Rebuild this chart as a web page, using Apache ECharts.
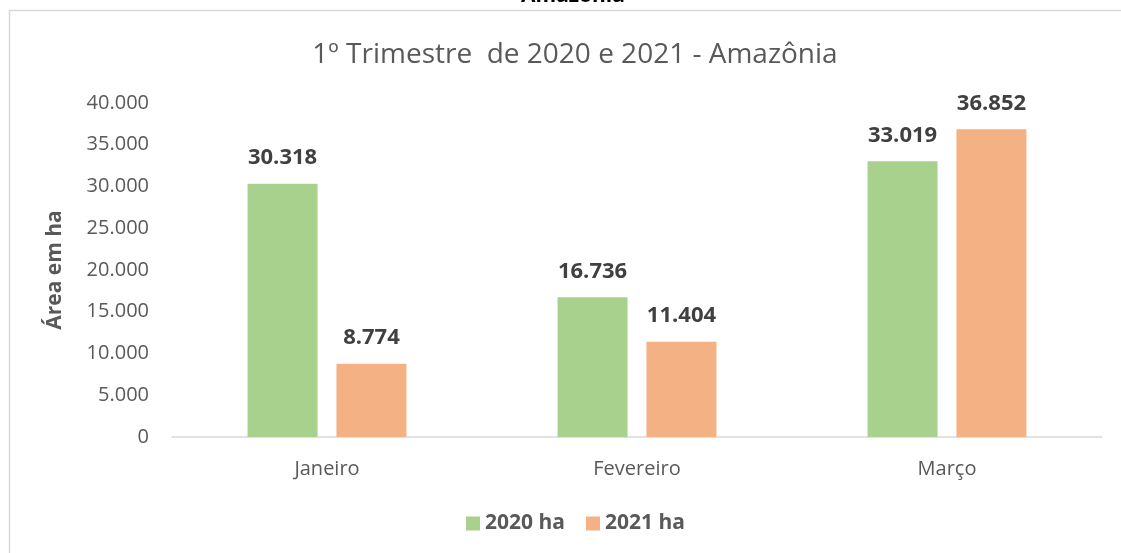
<!DOCTYPE html>
<html>
<head>
<meta charset="UTF-8">
<title>Amazônia</title>
<script src="https://cdn.jsdelivr.net/npm/echarts@6/dist/echarts.min.js"></script>
<style>
    body { margin: 0; padding: 0; background: #fff; }
    #main { width: 1121px; height: 553px; }
</style>
</head>
<body>
<div id="main"></div>
<script type="text/javascript">
    var meses = ['Janeiro', 'Fevereiro', 'Março'];
    var serie2020 = [30318, 16736, 33019];
    var serie2021 = [8774, 11404, 36852];
    var nomes = ['2020 ha', '2021 ha'];

    var fonte = '"Open Sans", sans-serif';

    // formato pt-BR: 30.318
    function fmt(v) {
        return String(v).replace(/\B(?=(\d{3})+(?!\d))/g, '.');
    }

    var myChart = echarts.init(document.getElementById('main'));
    var option = {
        animation: false,
        textStyle: { fontFamily: fonte },
        title: {
            text: '1º Trimestre  de 2020 e 2021 - Amazônia',
            left: 570,
            textAlign: 'center',
            top: 36,
            textStyle: { fontSize: 28, fontWeight: 'normal', color: '#595959', fontFamily: fonte }
        },
        graphic: [
            { type: 'polyline', shape: { points: [[9.5, 560], [9.5, 10.5], [1130, 10.5]] },
              style: { fill: 'none', stroke: '#d9d9d9', lineWidth: 1.5 } },
            // título de cima, cortado pela borda da imagem
            { type: 'text', x: 573, y: -14,
              style: { text: 'Amazônia', font: 'bold 21px ' + fonte, fill: '#000',
                       align: 'center', verticalAlign: 'top' } }
        ],
        legend: {
            data: nomes,
            top: 508,
            left: 461,
            itemWidth: 14,
            itemHeight: 14,
            itemGap: 21,
            icon: 'rect',
            textStyle: { fontSize: 21, fontWeight: 'bold', color: '#595959' }
        },
        grid: { left: 172, right: 19, top: 103, bottom: 116 },
        xAxis: {
            type: 'category',
            data: meses,
            axisLine: { lineStyle: { color: '#d9d9d9', width: 1.5 } },
            axisTick: { show: false },
            axisLabel: { fontSize: 20, color: '#595959', margin: 22 }
        },
        yAxis: {
            type: 'value',
            min: 0,
            max: 40000,
            interval: 5000,
            name: 'Área em ha',
            nameLocation: 'middle',
            nameGap: 106,
            nameTextStyle: { fontSize: 21, fontWeight: 'bold', color: '#595959' },
            splitLine: { show: false },
            axisLabel: { fontSize: 20, color: '#595959', margin: 23, formatter: fmt }
        },
        series: [
            {
                name: nomes[0],
                type: 'bar',
                data: serie2020,
                barWidth: 70,
                barGap: '27%',
                itemStyle: { color: '#A9D18E' },
                label: { show: true, position: 'top', distance: 15, fontSize: 22, fontWeight: 'bold',
                         color: '#404040', formatter: function (p) { return fmt(p.value); } }
            },
            {
                name: nomes[1],
                type: 'bar',
                data: serie2021,
                barWidth: 70,
                itemStyle: { color: '#F4B183' },
                label: { show: true, position: 'top', distance: 15, fontSize: 22, fontWeight: 'bold',
                         color: '#404040', formatter: function (p) { return fmt(p.value); } }
            }
        ]
    };
    myChart.setOption(option);
</script>
</body>
</html>
